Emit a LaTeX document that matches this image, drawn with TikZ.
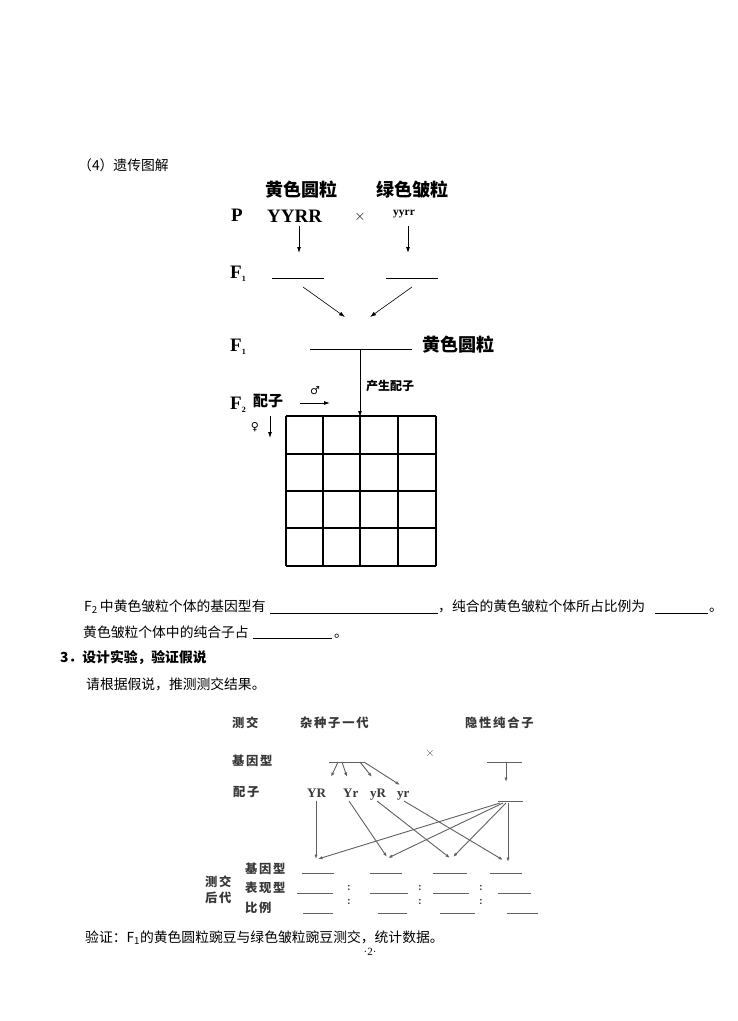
\documentclass[tikz,border=0pt]{standalone}
\usepackage{fontspec}
\newfontfamily\cjk{Noto Sans CJK SC}
\newfontfamily\cjkw{Noto Sans CJK SC}[LetterSpace=14]
\newfontfamily\tms{Liberation Serif}
\newfontfamily\dvs{DejaVu Sans}
\usetikzlibrary{arrows.meta}
\newcommand\Fsub[1]{F\raisebox{-3pt}{\fontsize{8}{8}\selectfont #1}}
\tikzset{
  every node/.style={inner sep=0pt},
  body/.style={font=\cjk\fontsize{13.8}{14}\selectfont, anchor=west, text height=12.1pt, text depth=1.7pt},
  bodyb/.style={body, font=\cjk\bfseries\fontsize{13.8}{14}\selectfont},
  bigc/.style={font=\cjk\bfseries\fontsize{18}{18}\selectfont, anchor=west, text height=15.8pt, text depth=2.2pt},
  midc/.style={font=\cjk\bfseries\fontsize{15}{15}\selectfont, anchor=west, text height=13.2pt, text depth=1.8pt},
  smc/.style={font=\cjk\bfseries\fontsize{12}{12}\selectfont, anchor=west, text height=10.6pt, text depth=1.4pt},
  lat/.style={font=\tms\bfseries\fontsize{19}{19}\selectfont, anchor=west, text height=12.6pt, text depth=0pt},
  latsm/.style={font=\tms\bfseries\fontsize{11.5}{11.5}\selectfont, anchor=west, text height=5.2pt, text depth=0pt},
  sym/.style={font=\dvs\fontsize{11}{11}\selectfont},
  ln/.style={line width=0.9pt},
  arr/.style={line width=0.8pt, -{Latex[length=6pt,width=4pt]}},
  gtx/.style={font=\cjkw\bfseries\fontsize{12.3}{12.5}\selectfont, anchor=west, text=black!78, text height=10.8pt, text depth=1.5pt},
  glat/.style={font=\tms\bfseries\fontsize{13}{13}\selectfont, anchor=west, text=black!78, text height=8.6pt, text depth=0pt},
  gln/.style={line width=0.9pt, draw=black!62},
  garr/.style={line width=0.9pt, draw=black!62, -{Latex[length=4.5pt,width=3.2pt]}},
  gcol/.style={font=\tms\bfseries\fontsize{11}{11}\selectfont, text=black!72},
}
\begin{document}
\begin{tikzpicture}[x=1pt,y=-1pt]
\useasboundingbox (0,0) rectangle (738,1021);
\fill[white] (0,0) rectangle (738,1021);

% ---------- heading ----------
\node[body] (t4) at (78,165) {（4）遗传图解};

% ---------- diagram 1 ----------
\node[bigc] (py) at (265,190) {黄色圆粒};
\node[bigc] (pg) at (376,190) {绿色皱粒};
\node[lat] (P) at (231,215) {P};
\node[lat] (YYRR) at (267,216) {YYRR};
\node[font=\fontsize{15}{15}\selectfont] (x1) at (360,217) {$\times$};
\node[latsm] (yyrr) at (393,213) {yyrr};
\coordinate (a1s) at (299,226); \coordinate (a1e) at (299,253);
\coordinate (a2s) at (408,226); \coordinate (a2e) at (408,253);
\draw[arr] (a1s) -- (a1e);
\draw[arr] (a2s) -- (a2e);

\node[lat] (F1a) at (230,272) {\Fsub{1}};
\draw[ln] (272,278) -- (324,278);
\draw[ln] (386,278) -- (438,278);
\coordinate (d1s) at (303,287); \coordinate (d1e) at (345,317);
\coordinate (d2s) at (412,287); \coordinate (d2e) at (370,317);
\draw[arr, line width=0.6pt] (d1s) -- (d1e);
\draw[arr, line width=0.6pt] (d2s) -- (d2e);

\node[lat] (F1b) at (230,345) {\Fsub{1}};
\draw[ln] (310,349) coordinate (f1l) -- (412,349) coordinate (f1r);
\node[bigc] (f1y) at (422,345) {黄色圆粒};
\coordinate (vtop) at (360,349);
\coordinate (vbot) at (360,417);
\draw[arr] (vtop) -- (vbot);
\node[smc] (csz) at (366,386) {产生配子};

\node[lat] (F2) at (230,403) {\Fsub{2}};
\node[midc] (pz) at (253,401) {配子};
\node[sym] (male) at (315,391) {♂};
\coordinate (m1) at (300,403); \coordinate (m2) at (330,403);
\draw[arr] (m1) -- (m2);
\node[sym] (fem) at (255,427) {♀};
\coordinate (f1) at (270,416); \coordinate (f2) at (270,438);
\draw[arr] (f1) -- (f2);

\foreach \xx in {286,323,360,398,436} \draw[ln,line width=1.1pt] (\xx,416) -- (\xx,566);
\foreach \yy in {416,454,491,528,566} \draw[ln,line width=1.1pt] (286,\yy) -- (436,\yy);

% ---------- text ----------
\node[body] (r1a) at (84,606) {F\textsubscript{2}\,中黄色皱粒个体的基因型有};
\draw[ln] (270,613) -- (438,613);
\node[body] (r1b) at (438,606) {，纯合的黄色皱粒个体所占比例为};
\draw[ln] (655,613) -- (708,613);
\node[body] (r1c) at (709,606) {。};

\node[body] (r2a) at (83,632) {黄色皱粒个体中的纯合子占};
\draw[ln] (253,638) -- (332,638);
\node[body] (r2b) at (334,632) {。};

\node[bodyb] (r3) at (60,657) {3．设计实验，验证假说};
\node[body] (r4) at (86,684) {请根据假说，推测测交结果。};

% ---------- diagram 2 ----------
\node[gtx] (c1) at (232,723) {测交};
\node[gtx] (c2) at (300,723) {杂种子一代};
\node[gtx] (c3) at (465,723) {隐性纯合子};
\node[gtx] (g1) at (232,761) {基因型};
\node[font=\fontsize{12}{12}\selectfont, text=black!70] (x2) at (430,753) {$\times$};
\draw[gln] (329,762) -- (364,762);
\draw[garr] (338,762) -- (331,777);
\draw[garr] (342,762) -- (347,777);
\draw[garr] (360,762) -- (372,777);
\draw[garr] (364,762) -- (400,785);
\draw[gln] (487,762) -- (522,762);
\coordinate (rg1) at (506,762); \coordinate (rg2) at (506,782);
\draw[garr] (rg1) -- (rg2);

\node[gtx] (pz2) at (233,792) {配子};
\node[glat] (YR) at (307,793) {YR};
\node[glat] (Yr) at (343,793) {Yr};
\node[glat] (yR) at (370,793) {yR};
\node[glat] (yr) at (397,793) {yr};
\draw[gln, line width=0.7pt] (498,801) -- (523,801);

\draw[garr] (316,801) -- (316,859);
\draw[garr] (349,801) -- (387,857);
\draw[garr] (377,801) -- (450,858);
\draw[garr] (404,801) -- (503,860);
\draw[garr] (500,803) -- (318,859);
\draw[garr] (503,803) -- (388,858);
\draw[garr] (506,803) -- (453,857);
\draw[garr] (508,803) -- (508,862);

\node[gtx] (h1) at (245,869) {基因型};
\node[gtx] (h2) at (245,888) {表现型};
\node[gtx] (h3) at (245,908) {比例};
\node[gtx] (cj) at (205,882) {测交};
\node[gtx] (hd) at (205,898) {后代};

\foreach \a/\b in {302/334,370/402,433/467,490/522} \draw[gln] (\a,873) -- (\b,873);
\foreach \a/\b in {297/333,370/408,433/469,498/531} \draw[gln] (\a,893) -- (\b,893);
\foreach \a/\b in {303/333,378/407,440/475,507/538} \draw[gln] (\a,913) -- (\b,913);
\foreach \xx in {349,420,481} {
  \node[gcol] at (\xx,888) {:};
  \node[gcol] at (\xx,902) {:};
}

% ---------- bottom ----------
\node[body] (vf) at (85,937) {验证：F\textsubscript{1}的黄色圆粒豌豆与绿色皱粒豌豆测交，统计数据。};
\node[font=\tms\fontsize{11}{11}\selectfont] (pg2) at (370,952) {·2·};
\end{tikzpicture}
\end{document}
